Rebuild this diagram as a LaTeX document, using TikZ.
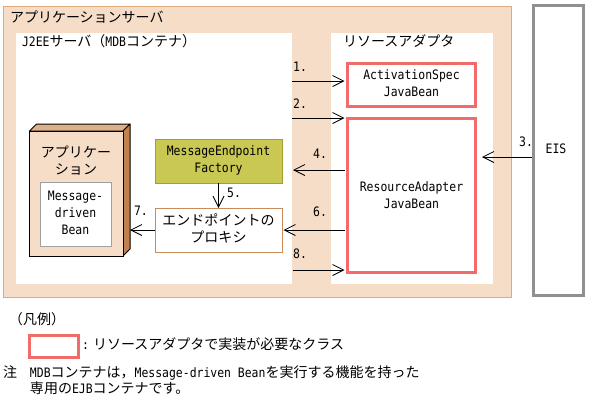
\documentclass[tikz,border=0pt]{standalone}
\usepackage{fontspec}
\setmainfont{DejaVu Sans Mono}[FakeStretch=0.88]
\newfontfamily\jpf{Noto Sans CJK JP}[Scale=1.077]
\usetikzlibrary{arrows.meta}
\newcommand{\JT}[1]{{\jpf #1}}
\definecolor{peach}{RGB}{245,221,200}
\definecolor{tanb}{RGB}{222,172,124}
\definecolor{salmon}{RGB}{242,106,106}
\definecolor{eisgray}{RGB}{144,144,144}
\definecolor{olive}{RGB}{200,200,82}
\definecolor{olived}{RGB}{160,160,50}
\definecolor{proxyb}{RGB}{200,140,90}
\definecolor{apptop}{RGB}{222,176,136}
\definecolor{appside}{RGB}{192,128,80}
\definecolor{mdbgray}{RGB}{160,160,160}
\begin{document}
\begin{tikzpicture}[x=1pt,y=-1pt,
  base/.style={font=\fontsize{13}{17}\selectfont, inner sep=0pt, outer sep=0pt},
  lbl/.style={base, text height=10pt, text depth=3pt},
  redbox/.style={draw=salmon, line width=3pt, fill=white, inner sep=0pt},
  plainbox/.style={inner sep=0pt, outer sep=0pt},
  arr/.style={draw=black, line width=0.8pt, -{Straight Barb[length=11pt,width=11pt,line width=0.8pt]}}]
\useasboundingbox (0,0) rectangle (590,405);
% containers
\node[plainbox, draw=tanb, fill=peach, line width=1pt, minimum width=508pt, minimum height=291pt] (appsrv) at (257.5,152) {};
\node[plainbox, fill=white, minimum width=276pt, minimum height=251pt] (j2ee) at (154,158.5) {};
\node[plainbox, fill=white, minimum width=162pt, minimum height=251pt] (rac) at (412,158.5) {};
\node[plainbox, draw=eisgray, line width=3pt, fill=white, minimum width=50pt, minimum height=290pt] (eis) at (558.5,150.5) {};
\node[lbl, anchor=west] (tapp) at (10,19) {\JT{アプリケーションサーバ}};
\node[lbl, anchor=west] (tj2ee) at (22,43) {J2EE\JT{サーバ（}MDB\JT{コンテナ）}};
\node[lbl, anchor=west] (trac) at (343,43) {\JT{リソースアダプタ}};
\node[lbl] (teis) at (556,150) {EIS};
% resource adapter classes
\node[redbox, minimum width=128pt, minimum height=43pt] (as) at (411.5,85) {};
\node[base, align=center] (tas) at (411.5,83.5) {ActivationSpec\\JavaBean};
\node[redbox, minimum width=128pt, minimum height=154pt] (ra) at (411.5,195.5) {};
\node[base, align=center] (tra) at (411.5,195.5) {ResourceAdapter\\JavaBean};
% container side
\node[plainbox, draw=olived, fill=olive, line width=1pt, minimum width=127pt, minimum height=44pt] (mef) at (218.5,161) {};
\node[base, align=center] (tmef) at (218.5,160.5) {MessageEndpoint\\Factory};
\node[plainbox, draw=proxyb, fill=white, line width=1pt, minimum width=127pt, minimum height=44pt] (proxy) at (218.5,230) {};
\node[base, align=center] (tproxy) at (218.5,228.5) {\JT{エンドポイントの}\\\JT{プロキシ}};
% application 3D box
\filldraw[fill=apptop, draw=black, line width=1pt, line join=round] (29.5,131) -- (36.5,124) -- (130,124) -- (123,131) -- cycle;
\filldraw[fill=appside, draw=black, line width=1pt, line join=round] (123,131) -- (130,124) -- (130,249) -- (123,256) -- cycle;
\node[plainbox, draw=black, fill=peach, line width=1pt, minimum width=93.5pt, minimum height=125pt] (app) at (76.25,193.5) {};
\node[base, align=center] (tapp2) at (76,161) {\JT{アプリケー}\\\JT{ション}};
\node[plainbox, draw=mdbgray, fill=white, line width=1pt, minimum width=71pt, minimum height=64pt] (mdb) at (75.5,214) {};
\node[base, align=center] (tmdb) at (75.5,213) {Message-\\driven\\Bean};
% arrows
\coordinate (y1) at (0,81);
\coordinate (y2) at (0,118);
\coordinate (y3) at (0,157);
\coordinate (y4) at (0,170);
\coordinate (y8) at (0,270);
\draw[arr, shorten >=1.5pt] (j2ee.east |- y1) -- (as.west |- y1);
\draw[arr, shorten >=1.5pt] (j2ee.east |- y2) -- (ra.west |- y2);
\draw[arr, shorten <=1.5pt, shorten >=5pt] (eis.west |- y3) -- (ra.east |- y3);
\draw[arr, shorten <=1.5pt, shorten >=1pt] (ra.west |- y4) -- (j2ee.east |- y4);
\draw[arr] (mef.south) -- (proxy.north);
\draw[arr, shorten <=1.5pt, shorten >=1.5pt] (ra.west |- proxy.east) -- (proxy.east);
\draw[arr] (proxy.west) -- ([xshift=7pt]app.east |- proxy.west);
\draw[arr, shorten <=1pt, shorten >=1.5pt] (j2ee.east |- y8) -- (ra.west |- y8);
\node[lbl] (n1) at (300,68) {1.};
\node[lbl] (n2) at (300,105) {2.};
\node[lbl] (n3) at (526,143) {3.};
\node[lbl] (n4) at (320,155) {4.};
\node[lbl] (n5) at (234,194) {5.};
\node[lbl] (n6) at (320,213) {6.};
\node[lbl] (n7) at (141,212) {7.};
\node[lbl] (n8) at (300,255) {8.};
% legend
\node[lbl, anchor=west] (lg) at (9,321) {\JT{（凡例）}};
\node[redbox, minimum width=49pt, minimum height=22pt] (lgbox) at (54,346.5) {};
\node[lbl, anchor=west] (lgtxt) at (82,346) {:\JT{ リソースアダプタで実装が必要なクラス}};
\node[lbl, anchor=west] (note) at (3,374) {\JT{注}};
\node[lbl, anchor=west] (note1) at (30,374) {MDB\JT{コンテナは，}Message-driven Bean\JT{を実行する機能を持った}};
\node[lbl, anchor=west] (note2) at (30,390) {\JT{専用の}EJB\JT{コンテナです。}};
\end{tikzpicture}
\end{document}
